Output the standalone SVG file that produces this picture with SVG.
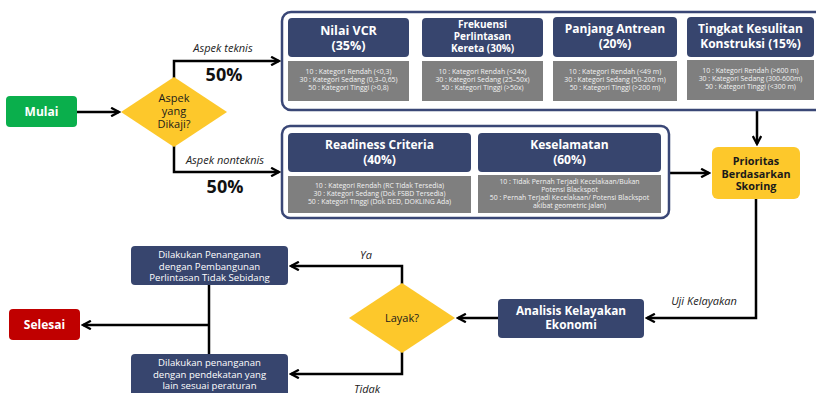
<svg xmlns="http://www.w3.org/2000/svg" width="816" height="393" viewBox="0 0 816 393">
  <defs>
    <marker id="arrow" viewBox="0 0 10 10" refX="8.5" refY="5" markerWidth="4.2" markerHeight="4.2" orient="auto" markerUnits="strokeWidth">
      <path d="M1,1 L8.5,5 L1,9" fill="none" stroke="#000" stroke-width="2.2" stroke-linejoin="miter"/>
    </marker>
    <style>
      text { font-family: "Open Sans", "Noto Sans", "Liberation Sans", sans-serif; }
      .grp { fill: #fff; stroke: #3a4776; stroke-width: 2.5; }
      .hdr { fill: #37456e; }
      .crit { fill: #7f7f7f; }
      .hdr-t { fill: #fff; font-weight: 700; text-anchor: middle; }
      .crit-t { fill: #f2f2f2; font-size: 6.9px; text-anchor: middle; }
      .navy { fill: #37456e; }
      .yellow { fill: #fdc82b; }
      .wire { fill: none; stroke: #000; stroke-width: 2.5; }
      .lbl { font-size: 11px; font-style: italic; fill: #222; text-anchor: middle; }
      .pct { font-size: 18px; font-weight: 700; fill: #111; text-anchor: middle; }
      .dec-t { font-size: 11px; fill: #1a1a1a; text-anchor: middle; }
      .act-t { fill: #fff; font-size: 9.6px; text-anchor: middle; }
      .pri-t { font-size: 10.8px; font-weight: 700; fill: #1a1a1a; text-anchor: middle; }
    </style>
  </defs>

  <!-- connectors -->
  <g id="connectors">
    <path class="wire" d="M77,112 H119" marker-end="url(#arrow)"/>
    <path class="wire" d="M174,78 V61 H279" marker-end="url(#arrow)"/>
    <path class="wire" d="M174,146 V172 H279" marker-end="url(#arrow)"/>
    <path class="wire" d="M757,111 V144" marker-end="url(#arrow)"/>
    <path class="wire" d="M670,173 H709" marker-end="url(#arrow)"/>
    <path class="wire" d="M756,199 V318 H647" marker-end="url(#arrow)"/>
    <path class="wire" d="M498,318 H458" marker-end="url(#arrow)"/>
    <path class="wire" d="M402,284 V266 H291" marker-end="url(#arrow)"/>
    <path class="wire" d="M402,352 V374 H291" marker-end="url(#arrow)"/>
    <path class="wire" d="M209,285 V354"/>
    <path class="wire" d="M209,325 H83" marker-end="url(#arrow)"/>
    <text class="lbl" x="223" y="52">Aspek teknis</text>
    <text class="pct" x="224" y="81">50%</text>
    <text class="lbl" x="225" y="164">Aspek nonteknis</text>
    <text class="pct" x="225" y="193">50%</text>
    <text class="lbl" x="704" y="305">Uji Kelayakan</text>
    <text class="lbl" x="366" y="259">Ya</text>
    <text class="lbl" x="367" y="393">Tidak</text>
  </g>

  <g id="mulai">
    <rect x="6" y="96" width="71" height="31" rx="4" fill="#0aaf4c"/>
    <text x="41.5" y="116" fill="#fff" font-size="12" font-weight="700" text-anchor="middle">Mulai</text>
  </g>

  <g id="aspek">
    <polygon class="yellow" points="174,77 227,112 174,147 121,112"/>
    <text class="dec-t" x="174" y="102">Aspek</text>
    <text class="dec-t" x="174" y="115">yang</text>
    <text class="dec-t" x="174" y="128">Dikaji?</text>
  </g>

  <!-- technical aspects -->
  <g id="teknis">
    <rect class="grp" x="282" y="12" width="545" height="98" rx="9"/>
    <g id="vcr">
      <rect class="hdr" x="288" y="18" width="121" height="39" rx="4"/>
      <text class="hdr-t" font-size="12.5" x="348.5" y="35">Nilai VCR</text>
      <text class="hdr-t" font-size="12.5" x="348.5" y="50">(35%)</text>
      <rect class="crit" x="288" y="61" width="121" height="40"/>
      <text class="crit-t" x="348.5" y="74">10 : Kategori Rendah (&lt;0,3)</text>
      <text class="crit-t" x="348.5" y="82">30 : Kategori Sedang (0,3–0,65)</text>
      <text class="crit-t" x="348.5" y="90">50 : Kategori Tinggi (&gt;0,8)</text>
    </g>
    <g id="frekuensi">
      <rect class="hdr" x="422" y="18" width="121" height="39" rx="4"/>
      <text class="hdr-t" font-size="10" x="482.5" y="28">Frekuensi</text>
      <text class="hdr-t" font-size="10" x="482.5" y="40">Perlintasan</text>
      <text class="hdr-t" font-size="10" x="482.5" y="52">Kereta (30%)</text>
      <rect class="crit" x="422" y="61" width="121" height="40"/>
      <text class="crit-t" x="482.5" y="74">10 : Kategori Rendah (&lt;24x)</text>
      <text class="crit-t" x="482.5" y="82">30 : Kategori Sedang (25–50x)</text>
      <text class="crit-t" x="482.5" y="90">50 : Kategori Tinggi (&gt;50x)</text>
    </g>
    <g id="antrean">
      <rect class="hdr" x="553" y="17" width="124" height="40" rx="4"/>
      <text class="hdr-t" font-size="12" x="615" y="33">Panjang Antrean</text>
      <text class="hdr-t" font-size="12" x="615" y="48">(20%)</text>
      <rect class="crit" x="553" y="61" width="124" height="40"/>
      <text class="crit-t" x="615" y="74">10 : Kategori Rendah (&lt;49 m)</text>
      <text class="crit-t" x="615" y="82">30 : Kategori Sedang (50-200 m)</text>
      <text class="crit-t" x="615" y="90">50 : Kategori Tinggi (&gt;200 m)</text>
    </g>
    <g id="konstruksi">
      <rect class="hdr" x="687" y="17" width="127" height="40" rx="4"/>
      <text class="hdr-t" font-size="12" x="750.5" y="33">Tingkat Kesulitan</text>
      <text class="hdr-t" font-size="12" x="750.5" y="48">Konstruksi (15%)</text>
      <rect class="crit" x="687" y="60" width="127" height="40"/>
      <text class="crit-t" x="750.5" y="73">10 : Kategori Rendah (&gt;600 m)</text>
      <text class="crit-t" x="750.5" y="81">30 : Kategori Sedang (300-600m)</text>
      <text class="crit-t" x="750.5" y="89">50 : Kategori Tinggi (&lt;300 m)</text>
    </g>
  </g>

  <!-- non-technical aspects -->
  <g id="nonteknis">
    <rect class="grp" x="282" y="126" width="387" height="92" rx="8"/>
    <g id="readiness">
      <rect class="hdr" x="288" y="133" width="183" height="39" rx="4"/>
      <text class="hdr-t" font-size="12" x="379.5" y="149">Readiness Criteria</text>
      <text class="hdr-t" font-size="12" x="379.5" y="164">(40%)</text>
      <rect class="crit" x="288" y="176" width="183" height="37"/>
      <text class="crit-t" x="379.5" y="188">10 : Kategori Rendah (RC Tidak Tersedia)</text>
      <text class="crit-t" x="379.5" y="196">30 : Kategori Sedang (Dok FSBD Tersedia)</text>
      <text class="crit-t" x="379.5" y="204">50 : Kategori Tinggi (Dok DED, DOKLING Ada)</text>
    </g>
    <g id="keselamatan">
      <rect class="hdr" x="478" y="133" width="183" height="39" rx="4"/>
      <text class="hdr-t" font-size="12" x="569.5" y="149">Keselamatan</text>
      <text class="hdr-t" font-size="12" x="569.5" y="164">(60%)</text>
      <rect class="crit" x="478" y="175" width="183" height="38"/>
      <text class="crit-t" x="569.5" y="184">10 : Tidak Pernah Terjadi Kecelakaan/Bukan</text>
      <text class="crit-t" x="569.5" y="192">Potensi Blackspot</text>
      <text class="crit-t" x="569.5" y="200">50 : Pernah Terjadi Kecelakaan/ Potensi Blackspot</text>
      <text class="crit-t" x="569.5" y="208">akibat geometric jalan)</text>
    </g>
  </g>

  <g id="prioritas">
    <rect class="yellow" x="712" y="147" width="88" height="52" rx="6"/>
    <text class="pri-t" x="756" y="165">Prioritas</text>
    <text class="pri-t" x="756" y="177.5">Berdasarkan</text>
    <text class="pri-t" x="756" y="190">Skoring</text>
  </g>

  <g id="analisis">
    <rect class="navy" x="498" y="299" width="146" height="39" rx="4"/>
    <text x="571" y="315" font-size="11.8" font-weight="700" fill="#fff" text-anchor="middle">Analisis Kelayakan</text>
    <text x="571" y="329" font-size="11.8" font-weight="700" fill="#fff" text-anchor="middle">Ekonomi</text>
  </g>

  <g id="layak">
    <polygon class="yellow" points="402,283 455,318 402,353 349,318"/>
    <text class="dec-t" x="402" y="322">Layak?</text>
  </g>

  <g id="sebidang">
    <rect class="navy" x="131" y="246" width="157" height="39" rx="4"/>
    <text class="act-t" x="209.5" y="258">Dilakukan Penanganan</text>
    <text class="act-t" x="209.5" y="269.5">dengan Pembangunan</text>
    <text class="act-t" x="209.5" y="281">Perlintasan Tidak Sebidang</text>
  </g>

  <g id="peraturan">
    <rect class="navy" x="131" y="354" width="157" height="45" rx="4"/>
    <text class="act-t" x="209.5" y="366">Dilakukan penanganan</text>
    <text class="act-t" x="209.5" y="377.5">dengan pendekatan yang</text>
    <text class="act-t" x="209.5" y="389">lain sesuai peraturan</text>
  </g>

  <g id="selesai">
    <rect x="9" y="309" width="71" height="31" rx="4" fill="#c00000"/>
    <text x="44.5" y="329" fill="#fff" font-size="12" font-weight="700" text-anchor="middle">Selesai</text>
  </g>
</svg>
